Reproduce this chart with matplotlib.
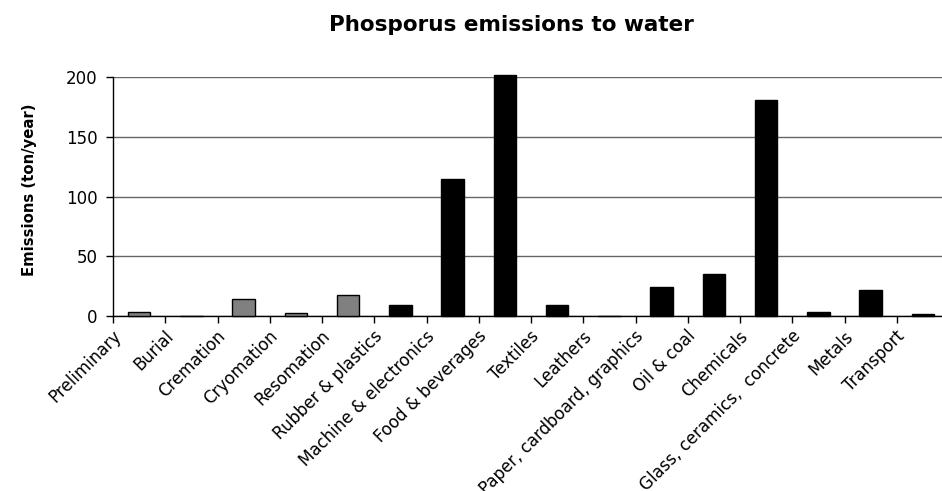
import numpy as np
import matplotlib
matplotlib.use('Agg')
import matplotlib.pyplot as plt
from matplotlib.transforms import ScaledTranslation

categories = ['Preliminary', 'Burial', 'Cremation', 'Cryomation', 'Resomation',
              'Rubber & plastics', 'Machine & electronics', 'Food & beverages',
              'Textiles', 'Leathers', 'Paper, cardboard, graphics', 'Oil & coal',
              'Chemicals', 'Glass, ceramics,  concrete', 'Metals', 'Transport']
emissions = [3.6, 0, 14.0, 2.5, 17.3, 9.5, 114.7, 201.8,
             9.5, 0, 24.3, 34.9, 180.6, 3.1, 21.5, 1.7]
# first five are the funeral options (grey), the rest are industries (black)
is_funeral = [True] * 5 + [False] * 11

yticks = [0, 50, 100, 150, 200]

plt.rcParams['font.family'] = 'DejaVu Sans'

W, H = 942, 491
fig = plt.figure(figsize=(W / 100, H / 100), dpi=100)
ax = fig.add_axes([113 / W, 175 / H, (949 - 113) / W, (413.7 - 175) / H])

x = np.arange(len(categories))
colors = ['#808080' if f else 'black' for f in is_funeral]
ax.bar(x, emissions, width=0.43, color=colors, edgecolor='black',
       linewidth=1, clip_on=False, zorder=3)

ax.set_xlim(-0.5, len(categories) - 0.5)
ax.set_ylim(0, 200)
ax.set_yticks(yticks)
ax.yaxis.grid(True, color='#666666', linewidth=1)
ax.set_axisbelow(True)

for s in ['top', 'right']:
    ax.spines[s].set_visible(False)
for s in ['left', 'bottom']:
    ax.spines[s].set_color('black')
    ax.spines[s].set_linewidth(1)

# tick marks at the category boundaries, labels at the centres
ax.set_xticks(np.arange(-0.5, len(categories), 1))
ax.set_xticklabels([])
ax.set_xticks(x, minor=True)
ax.set_xticklabels(categories, minor=True, rotation=45, ha='right', va='top',
                   rotation_mode='anchor', fontsize=12)
ax.tick_params(axis='x', which='major', direction='out', length=5, width=1)
ax.tick_params(axis='x', which='minor', length=0, pad=8)
offset = ScaledTranslation(-0.27, 0, fig.dpi_scale_trans)
for lbl in ax.get_xticklabels(minor=True):
    lbl.set_transform(lbl.get_transform() + offset)

ax.tick_params(axis='y', direction='out', length=5, width=1, pad=6, labelsize=12)

fig.text(511 / W, 1 - 25 / H, 'Phosporus emissions to water',
         ha='center', va='center', fontsize=15.5, fontweight='bold')
fig.text(30 / W, 1 - 190 / H, 'Emissions (ton/year)', rotation=90,
         ha='center', va='center', fontsize=10.7, fontweight='bold')

fig.savefig('out.png', dpi=100)
